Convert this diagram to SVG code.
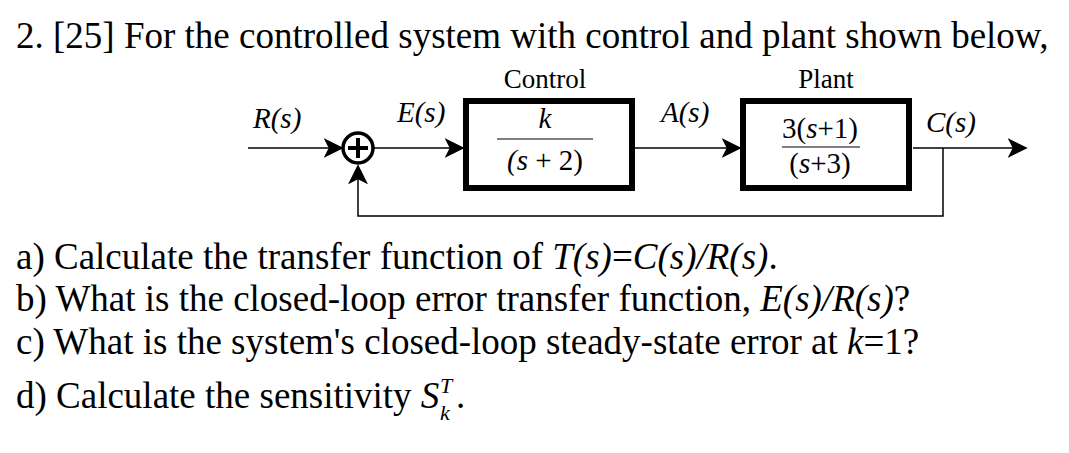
<svg xmlns="http://www.w3.org/2000/svg" width="1069" height="453" viewBox="0 0 1069 453">
<style>
.t{font-family:"Liberation Serif",serif;font-size:37px;fill:#000}
.s{font-family:"Liberation Serif",serif;font-size:27px;fill:#000}
.i{font-family:"Liberation Serif",serif;font-size:29px;font-style:italic;fill:#000}
.m{font-family:"Liberation Serif",serif;font-size:29px;fill:#000}
.sc{font-family:"Liberation Serif",serif;font-size:22px;font-style:italic;fill:#000}
.box{fill:#fff;stroke:#000;stroke-width:6}
.ln{fill:none;stroke:#000;stroke-width:1.5}
</style>
<defs><marker id="a" viewBox="0 0 12 12" refX="11" refY="6" markerWidth="20" markerHeight="20" markerUnits="userSpaceOnUse" orient="auto"><path d="M0,0 L12,6 L0,12 L3,6 Z" fill="#000"/></marker></defs>
<rect width="1069" height="453" fill="#fff"/>
<text class="t" x="16" y="48">2. [25] For the controlled system with control and plant shown below,</text>
<g id="connectors">
<line class="ln" x1="248" y1="148" x2="342" y2="148" marker-end="url(#a)"/>
<line class="ln" x1="374" y1="148" x2="463" y2="148" marker-end="url(#a)"/>
<line class="ln" x1="635" y1="148" x2="740" y2="148" marker-end="url(#a)"/>
<line class="ln" x1="913" y1="148" x2="1026" y2="148" marker-end="url(#a)"/>
<polyline class="ln" points="943,148 943,216 358,216 358,166" marker-end="url(#a)"/>
</g>
<g id="sum"><circle cx="358" cy="148" r="15" fill="#fff" stroke="#000" stroke-width="3.5"/><path d="M348,148 H368 M358,138 V158" stroke="#000" stroke-width="4"/></g>
<g id="control"><rect class="box" x="466" y="101" width="166" height="87"/>
<text class="s" x="545" y="88" text-anchor="middle">Control</text>
<text class="i" x="545" y="128" text-anchor="middle">k</text>
<line x1="497" y1="139" x2="593" y2="139" stroke="#000" stroke-width="1.2"/>
<text class="m" x="545" y="170" text-anchor="middle"><tspan font-style="italic">(s</tspan> + 2)</text></g>
<g id="plant"><rect class="box" x="743" y="101" width="166" height="87"/>
<text class="s" x="826" y="88" text-anchor="middle">Plant</text>
<text class="m" x="820" y="138" text-anchor="middle">3(<tspan font-style="italic">s</tspan>+1)</text>
<line x1="782" y1="147" x2="860" y2="147" stroke="#000" stroke-width="1.2"/>
<text class="m" x="820" y="173" text-anchor="middle">(<tspan font-style="italic">s</tspan>+3)</text></g>
<text class="i" x="253" y="128">R(s)</text>
<text class="i" x="397" y="122">E(s)</text>
<text class="i" x="661" y="122">A(s)</text>
<text class="i" x="926" y="132">C(s)</text>
<text class="t" x="16" y="269">a) Calculate the transfer function of <tspan font-style="italic">T(s)</tspan>=<tspan font-style="italic">C(s)/R(s)</tspan>.</text>
<text class="t" x="16" y="311">b) What is the closed-loop error transfer function, <tspan font-style="italic">E(s)/R(s)</tspan>?</text>
<text class="t" x="16" y="354">c) What is the system's closed-loop steady-state error at <tspan font-style="italic">k</tspan>=1?</text>
<text class="t" x="16" y="408">d) Calculate the sensitivity <tspan font-style="italic">S</tspan></text>
<text class="sc" x="440" y="393">T</text>
<text class="sc" x="440" y="420">k</text>
<text class="t" x="456" y="408">.</text>
</svg>
